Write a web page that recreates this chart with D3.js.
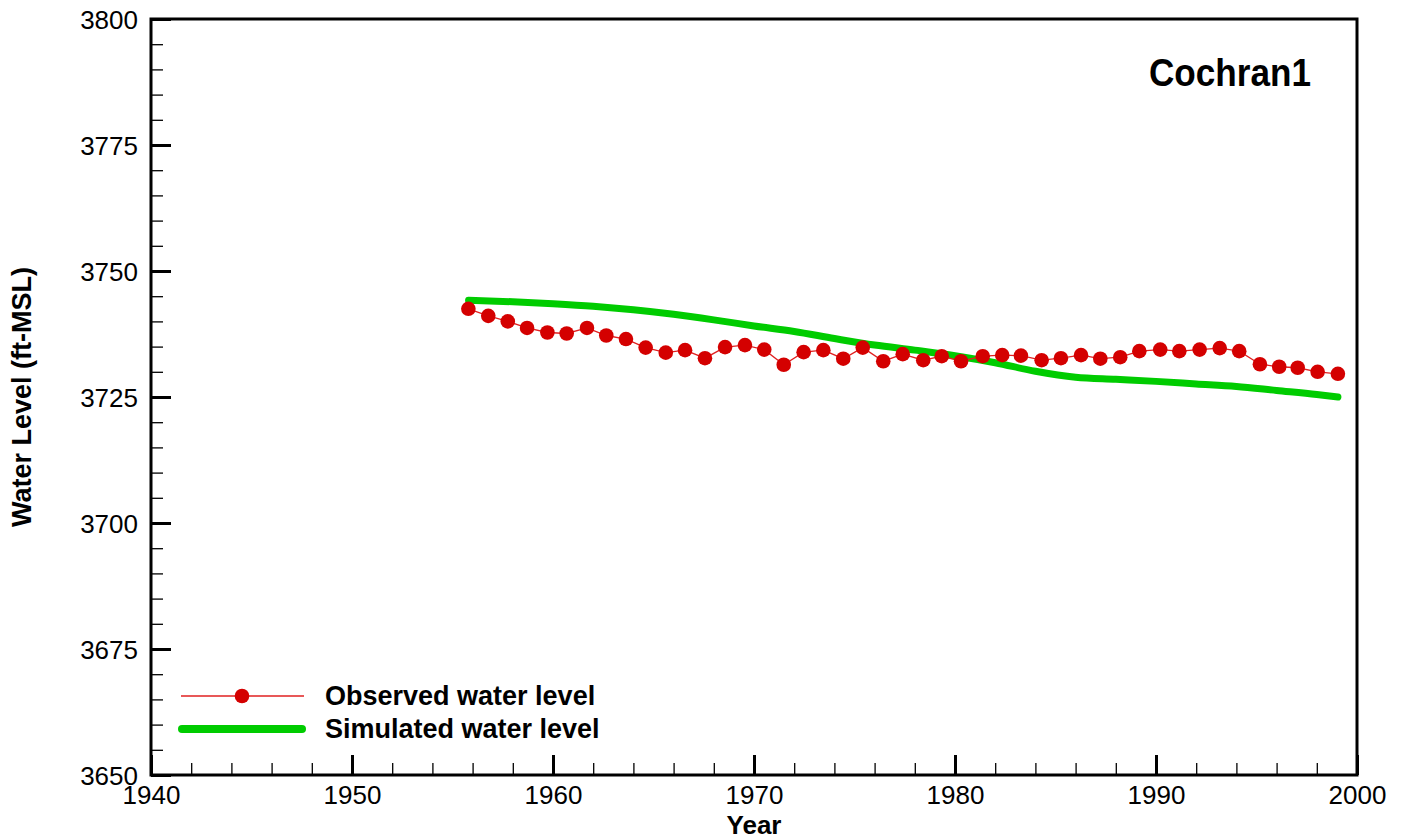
<!DOCTYPE html>
<html><head><meta charset="utf-8">
<script src="https://cdn.jsdelivr.net/npm/d3@7"></script>
<style>body{margin:0;background:#fff}svg{display:block}text{font-family:"Liberation Sans",Arial,sans-serif}</style>
</head><body>
<svg id="c" width="1407" height="839"></svg>
<script>
const obsYears = [1955.79,1956.78,1957.75,1958.71,1959.72,1960.68,1961.69,1962.65,1963.63,1964.61,1965.61,1966.57,1967.56,1968.56,1969.55,1970.51,1971.48,1972.47,1973.45,1974.44,1975.41,1976.43,1977.40,1978.42,1979.34,1980.30,1981.38,1982.35,1983.28,1984.31,1985.27,1986.27,1987.23,1988.22,1989.17,1990.21,1991.16,1992.17,1993.17,1994.14,1995.17,1996.13,1997.05,1998.04,1999.05];
const obsLevels = [3742.5,3741.1,3740.0,3738.7,3737.8,3737.6,3738.7,3737.2,3736.5,3734.8,3733.8,3734.3,3732.7,3734.9,3735.3,3734.4,3731.4,3733.9,3734.3,3732.6,3734.8,3732.1,3733.5,3732.3,3733.1,3732.1,3733.1,3733.3,3733.2,3732.3,3732.7,3733.3,3732.6,3732.9,3734.1,3734.4,3734.1,3734.4,3734.7,3734.1,3731.5,3731.0,3730.8,3730.0,3729.6];
const simYears = [1955.8,1958,1960,1962,1964,1966,1968,1970,1972,1974,1976,1978,1980,1982,1984,1986,1988,1990,1992,1994,1996,1998,1999.05];
const simLevels = [3744.2,3743.9,3743.5,3743.0,3742.3,3741.4,3740.3,3739.1,3738.0,3736.6,3735.3,3734.3,3733.2,3731.8,3730.1,3728.9,3728.5,3728.1,3727.6,3727.1,3726.3,3725.5,3725.0];
const xTicks = [1940,1950,1960,1970,1980,1990,2000];
const yTicks = [3650,3675,3700,3725,3750,3775,3800];
const title = "Cochran1";
const xLabel = "Year";
const yLabel = "Water Level (ft-MSL)";
const seriesNames = ["Observed water level","Simulated water level"];

const svg = d3.select("#c");
const L=151, R=1357, T=19, B=775;
const x = d3.scaleLinear().domain([1940,2000]).range([L,R]);
const y = d3.scaleLinear().domain([3650,3800]).range([B,T]);

const obs = obsYears.map((d,i)=>({x:d,y:obsLevels[i]}));
const sim = simYears.map((d,i)=>({x:d,y:simLevels[i]}));

// minor ticks
const xMinor = d3.range(1940,2000.01,2).filter(v=>v%10!==0);
const yMinor = d3.range(3650,3800.01,5).filter(v=>v%25!==0);
const gxm = svg.append("g").attr("transform",`translate(0,${B})`)
  .call(d3.axisBottom(x).tickValues(xMinor).tickSize(-12).tickFormat(""));
const gym = svg.append("g").attr("transform",`translate(${L},0)`)
  .call(d3.axisLeft(y).tickValues(yMinor).tickSize(-12).tickFormat(""));
[gxm,gym].forEach(g=>{g.select(".domain").remove();g.selectAll(".tick line").attr("stroke","#000").attr("stroke-width",1.3);});

const gx = svg.append("g").attr("transform",`translate(0,${B})`)
  .call(d3.axisBottom(x).tickValues(xTicks).tickSize(-20).tickPadding(0).tickFormat(d3.format("d")));
const gy = svg.append("g").attr("transform",`translate(${L},0)`)
  .call(d3.axisLeft(y).tickValues(yTicks).tickSize(-20).tickPadding(0).tickFormat(d3.format("d")));
[gx,gy].forEach(g=>{g.select(".domain").remove();g.selectAll(".tick line").attr("stroke","#000").attr("stroke-width",3);
  g.selectAll(".tick text").attr("font-size",26).attr("fill","#000").style("font-family","'Liberation Sans',Arial,sans-serif");});
gx.selectAll(".tick text").attr("y",0).attr("dy",29);
gy.selectAll(".tick text").attr("x",-13).attr("dy","0.36em");

// frame
svg.append("rect").attr("x",L).attr("y",T).attr("width",R-L).attr("height",B-T)
  .attr("fill","none").attr("stroke","#000").attr("stroke-width",3);

// simulated
svg.append("path").datum(sim)
  .attr("d",d3.line().x(d=>x(d.x)).y(d=>y(d.y)).curve(d3.curveMonotoneX))
  .attr("fill","none").attr("stroke","#00cc00").attr("stroke-width",7).attr("stroke-linecap","round");

// observed
svg.append("path").datum(obs)
  .attr("d",d3.line().x(d=>x(d.x)).y(d=>y(d.y)))
  .attr("fill","none").attr("stroke","#e02020").attr("stroke-width",1.3);
svg.append("g").selectAll("circle").data(obs).join("circle")
  .attr("cx",d=>x(d.x)).attr("cy",d=>y(d.y)).attr("r",7.3).attr("fill","#d40000");

// title
svg.append("text").attr("x",1230).attr("y",86).attr("text-anchor","middle")
  .attr("font-size",38).attr("font-weight","bold").attr("textLength",162).attr("lengthAdjust","spacingAndGlyphs").text(title);

// axis labels
svg.append("text").attr("x",(L+R)/2).attr("y",834).attr("text-anchor","middle")
  .attr("font-size",26).attr("font-weight","bold").text(xLabel);
svg.append("text").attr("transform",`translate(31,397) rotate(-90)`).attr("text-anchor","middle")
  .attr("font-size",27).attr("font-weight","bold").text(yLabel);

// legend
const lg = svg.append("g");
lg.append("line").attr("x1",181).attr("x2",304).attr("y1",696).attr("y2",696).attr("stroke","#e02020").attr("stroke-width",1.3);
lg.append("circle").attr("cx",242).attr("cy",696).attr("r",7.3).attr("fill","#d40000");
lg.append("text").attr("x",325).attr("y",705).attr("font-size",27).attr("font-weight","bold").text(seriesNames[0]);
lg.append("line").attr("x1",182).attr("x2",302).attr("y1",729).attr("y2",729).attr("stroke","#00cc00").attr("stroke-width",8).attr("stroke-linecap","round");
lg.append("text").attr("x",325).attr("y",738).attr("font-size",27).attr("font-weight","bold").text(seriesNames[1]);
</script>
</body></html>
